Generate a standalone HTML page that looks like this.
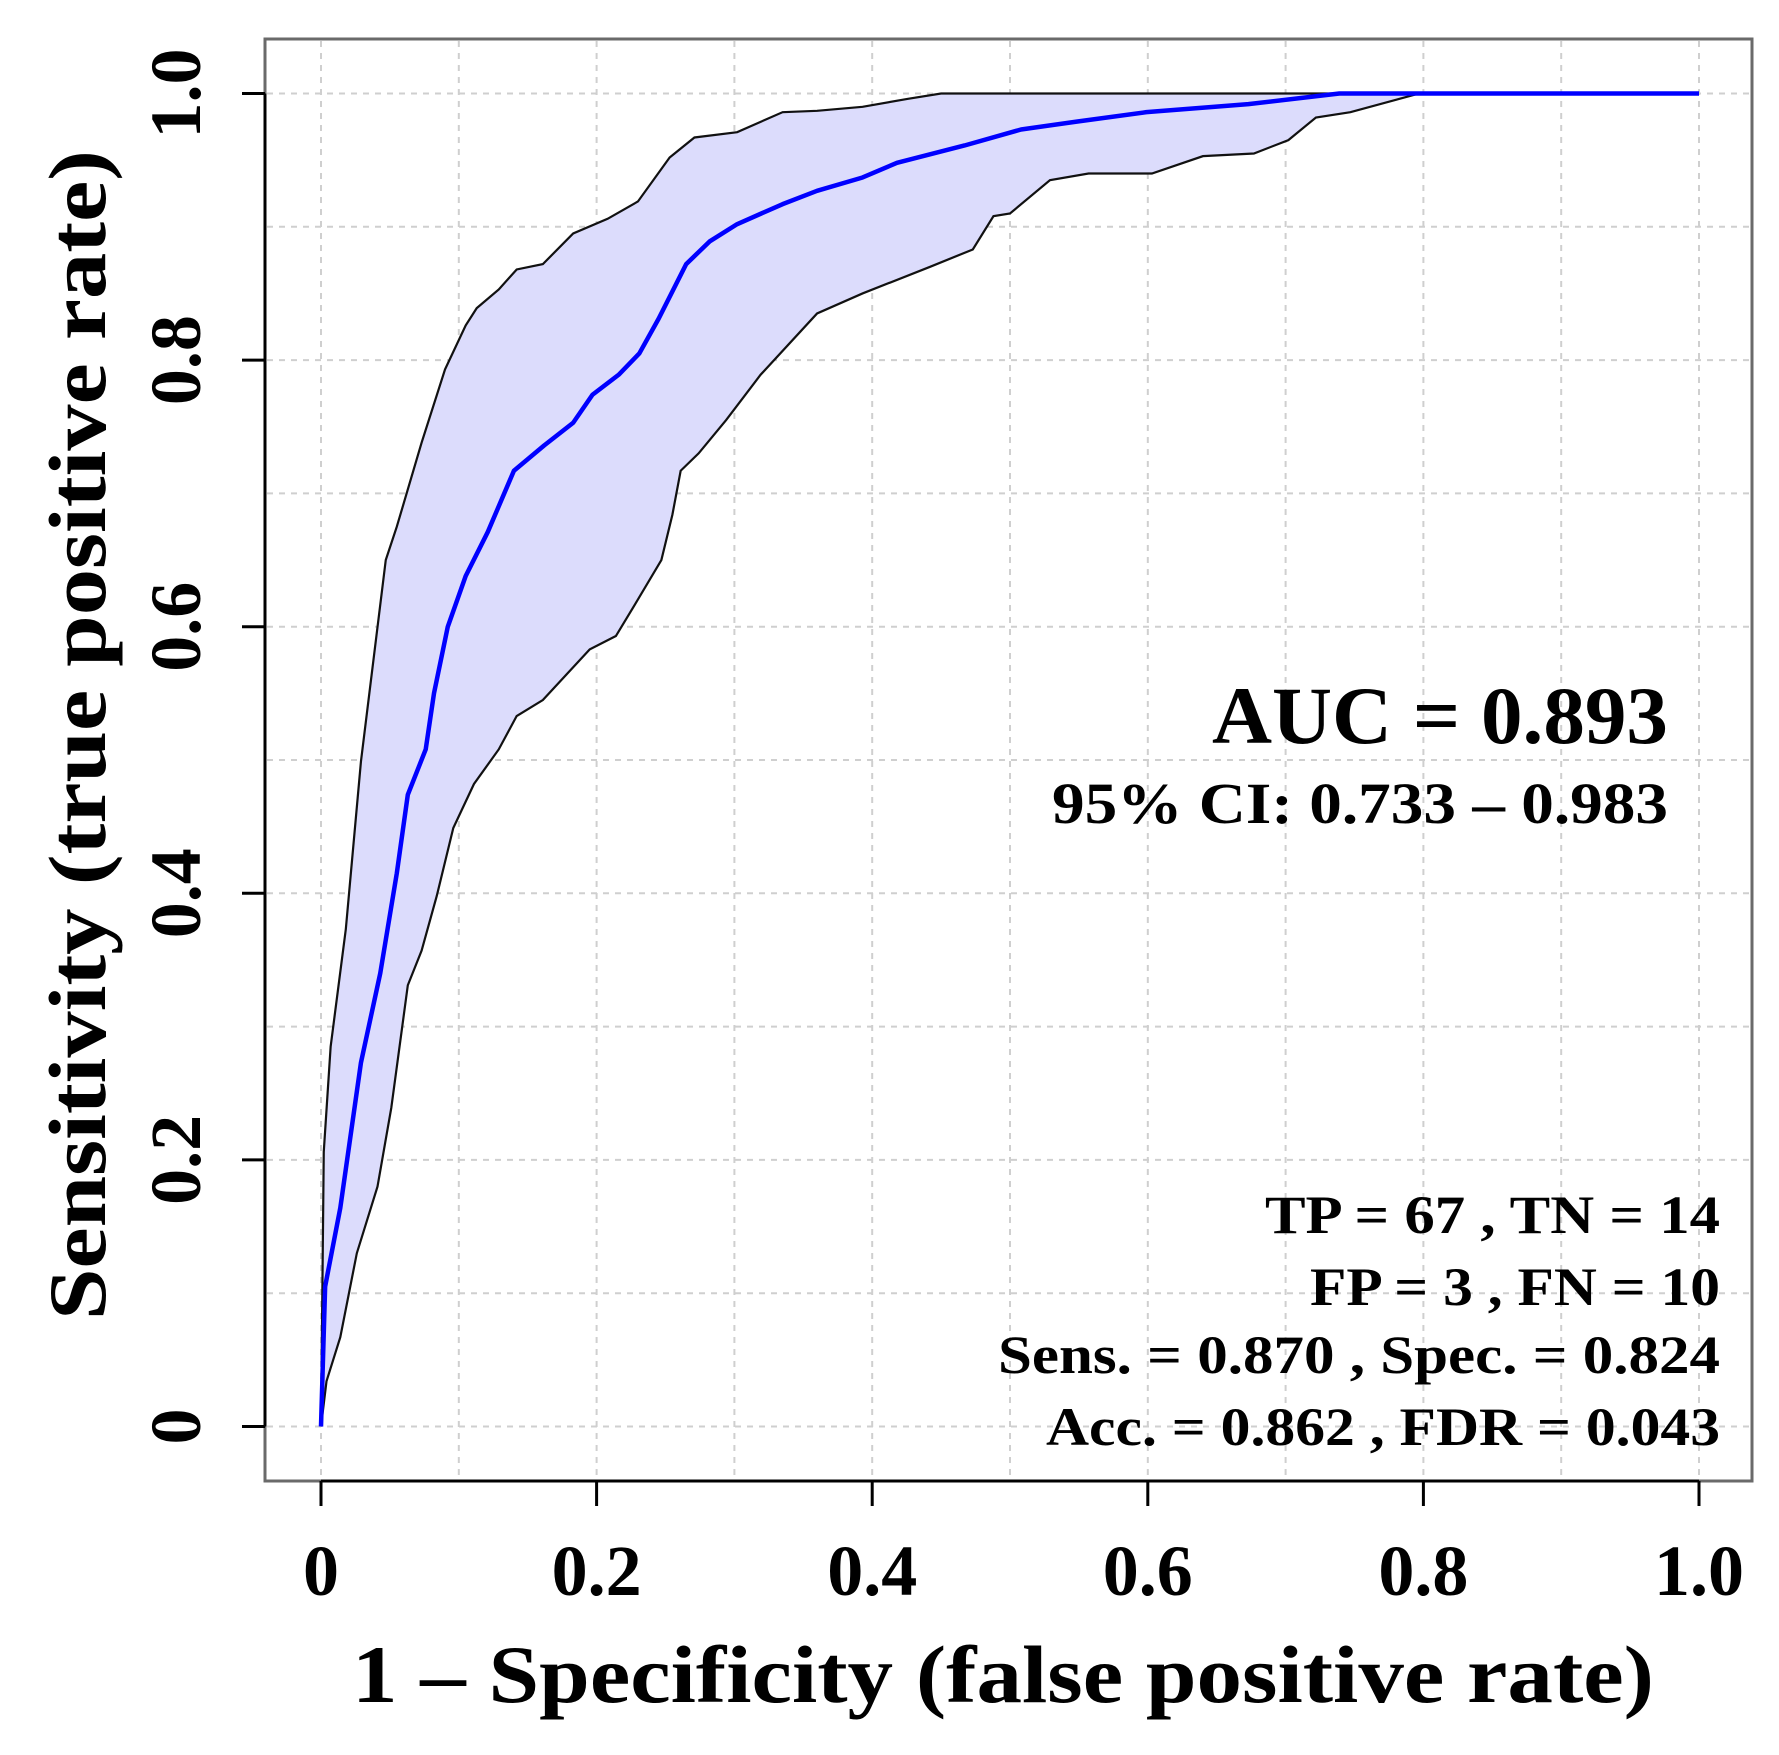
<!DOCTYPE html>
<html><head><meta charset="utf-8"><style>
html,body{margin:0;padding:0;background:#fff;}
svg{display:block;}
text{font-family:"Liberation Serif",serif;font-weight:bold;fill:#000;}
</style></head><body>
<svg id="chart" width="1779" height="1755" viewBox="0 0 1779 1755" xmlns="http://www.w3.org/2000/svg">
<g id="grid"></g>
<g id="band"></g>
<g id="curve"></g>
<rect x="265" y="39" width="1487" height="1442" fill="none" stroke="#6a6a6a" stroke-width="3"/>
<g id="axes"></g>
<text x="1668" y="743" text-anchor="end" font-size="82" textLength="456" lengthAdjust="spacingAndGlyphs">AUC = 0.893</text>
<text x="1668" y="823" text-anchor="end" font-size="58" font-weight="normal" textLength="616" lengthAdjust="spacingAndGlyphs">95% CI: 0.733 – 0.983</text>
<text x="1720" y="1233" text-anchor="end" font-size="54" textLength="455" lengthAdjust="spacingAndGlyphs">TP = 67 ,  TN = 14</text>
<text x="1720" y="1305" text-anchor="end" font-size="54" textLength="410" lengthAdjust="spacingAndGlyphs">FP = 3 ,  FN = 10</text>
<text x="1720" y="1373" text-anchor="end" font-size="54" textLength="722" lengthAdjust="spacingAndGlyphs">Sens. = 0.870 ,  Spec. = 0.824</text>
<text x="1720" y="1445" text-anchor="end" font-size="54" textLength="674" lengthAdjust="spacingAndGlyphs">Acc. = 0.862 ,  FDR = 0.043</text>
<text x="1003" y="1702" text-anchor="middle" font-size="82" textLength="1302" lengthAdjust="spacingAndGlyphs">1 – Specificity  (false positive rate)</text>
<text transform="translate(105,735) rotate(-90)" text-anchor="middle" font-size="82" textLength="1170" lengthAdjust="spacingAndGlyphs">Sensitivity  (true positive  rate)</text>
</svg>
<script>
const tickValues = [0, 0.2, 0.4, 0.6, 0.8, 1.0];
const tickLabels = ["0", "0.2", "0.4", "0.6", "0.8", "1.0"];
const gridValues = [0,0.1,0.2,0.3,0.4,0.5,0.6,0.7,0.8,0.9,1.0];
const rocX = [0,0.003,0.014,0.029,0.043,0.055,0.063,0.076,0.082,0.092,0.105,0.121,0.140,0.162,0.183,0.197,0.216,0.231,0.245,0.265,0.282,0.302,0.335,0.360,0.393,0.418,0.467,0.508,0.549,0.599,0.673,0.739,1];
const rocY = [0,0.105,0.164,0.273,0.340,0.415,0.474,0.508,0.550,0.600,0.638,0.671,0.717,0.736,0.753,0.774,0.789,0.805,0.831,0.872,0.889,0.902,0.917,0.927,0.937,0.948,0.961,0.973,0.979,0.986,0.992,1,1];
const upperX = [0,0.002,0.007,0.018,0.029,0.047,0.055,0.073,0.090,0.105,0.113,0.129,0.142,0.161,0.183,0.208,0.230,0.253,0.271,0.302,0.335,0.360,0.393,0.426,0.450,1];
const upperY = [0,0.206,0.285,0.373,0.499,0.650,0.675,0.738,0.793,0.826,0.839,0.853,0.868,0.872,0.895,0.906,0.919,0.952,0.967,0.971,0.986,0.987,0.990,0.996,1,1];
const lowerX = [0,0.004,0.014,0.026,0.041,0.051,0.063,0.073,0.084,0.096,0.111,0.129,0.142,0.161,0.195,0.214,0.228,0.247,0.255,0.261,0.274,0.294,0.319,0.360,0.393,0.442,0.473,0.488,0.500,0.529,0.557,0.603,0.640,0.677,0.702,0.722,0.747,0.797,1];
const lowerY = [0,0.034,0.067,0.130,0.180,0.239,0.331,0.357,0.398,0.449,0.482,0.508,0.533,0.545,0.583,0.593,0.617,0.650,0.684,0.717,0.730,0.755,0.789,0.835,0.850,0.870,0.883,0.908,0.910,0.935,0.940,0.940,0.953,0.955,0.965,0.982,0.986,1,1];

const NS = "http://www.w3.org/2000/svg";
const X0 = 321, X1 = 1699, Y0 = 1426.5, Y1 = 93.5;
function sx(v){ return X0 + v*(X1-X0); }
function sy(v){ return Y0 - v*(Y0-Y1); }
function mk(tag, attrs, parent){ const e=document.createElementNS(NS,tag); for(const k in attrs) e.setAttribute(k,attrs[k]); parent.appendChild(e); return e; }

const grid = document.getElementById('grid');
gridValues.forEach(v=>{
  const gv = mk('line',{x1:sx(v),x2:sx(v),y1:41,y2:1479,stroke:'#cfcfcf','stroke-width':2,'stroke-dasharray':'6 6'},grid);
  
  
  const gh = mk('line',{x1:267,x2:1750,y1:sy(v),y2:sy(v),stroke:'#cfcfcf','stroke-width':2,'stroke-dasharray':'6 6'},grid);
  
  
});

const band = document.getElementById('band');
let d = 'M' + upperX.map((x,i)=>sx(x)+','+sy(upperY[i])).join(' L');
for(let i=lowerX.length-1;i>=0;i--) d += ' L' + sx(lowerX[i]) + ',' + sy(lowerY[i]);
d += ' Z';
const fill = mk('path',{d:d,fill:'#dcdcfc',stroke:'none'},band);


const up = mk('polyline',{points:upperX.map((x,i)=>sx(x)+','+sy(upperY[i])).join(' '),fill:'none',stroke:'#111','stroke-width':2.2},band);


const lo = mk('polyline',{points:lowerX.map((x,i)=>sx(x)+','+sy(lowerY[i])).join(' '),fill:'none',stroke:'#111','stroke-width':2.2},band);



const curve = document.getElementById('curve');
const roc = mk('polyline',{points:rocX.map((x,i)=>sx(x)+','+sy(rocY[i])).join(' '),fill:'none',stroke:'#0000ff','stroke-width':4.5,'stroke-linejoin':'round'},curve);



const axes = document.getElementById('axes');
const xa = mk('line',{x1:sx(0),x2:sx(1),y1:1481,y2:1481,stroke:'#000','stroke-width':3},axes);


const ya = mk('line',{x1:265,x2:265,y1:sy(0),y2:sy(1),stroke:'#000','stroke-width':3},axes);


tickValues.forEach((v,i)=>{
  const xt = mk('line',{x1:sx(v),x2:sx(v),y1:1481,y2:1506,stroke:'#000','stroke-width':3},axes);
  
  
  const xl = mk('text',{x:sx(v),y:1595,'text-anchor':'middle','font-size':72},axes);
  xl.textContent = tickLabels[i];
  
  
  const yt = mk('line',{x1:242,x2:265,y1:sy(v),y2:sy(v),stroke:'#000','stroke-width':3},axes);
  
  
  const yl = mk('text',{transform:'translate(200,'+sy(v)+') rotate(-90)','text-anchor':'middle','font-size':72},axes);
  yl.textContent = tickLabels[i];
  
  
});
</script>
</body></html>
